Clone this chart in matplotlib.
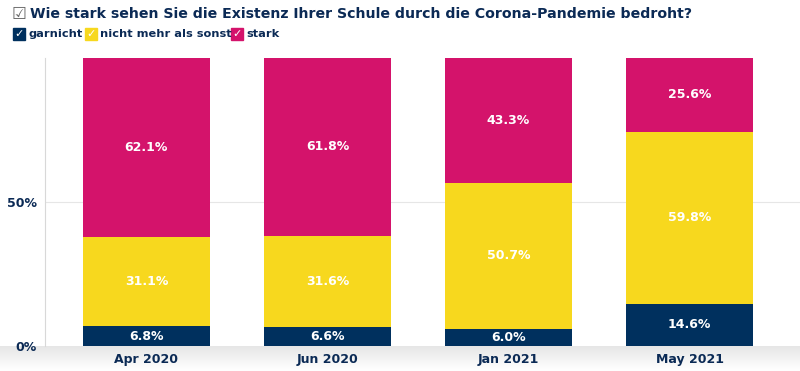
import numpy as np
import matplotlib.pyplot as plt
from matplotlib.patches import Rectangle

categories = ["Apr 2020", "Jun 2020", "Jan 2021", "May 2021"]
garnicht = [6.8, 6.6, 6.0, 14.6]
nicht_mehr = [31.1, 31.6, 50.7, 59.8]
stark = [62.1, 61.8, 43.3, 25.6]
series_names = ["garnicht", "nicht mehr als sonst", "stark"]

navy = "#00305e"
yellow = "#f7d81e"
magenta = "#d4136b"
text_col = "#0b2a55"

fig = plt.figure(figsize=(8, 3.71), dpi=100)

# grey shaded band under the plot
band = fig.add_axes([0, 0, 1, 25 / 371])
grad = np.linspace(0.90, 1.0, 50).reshape(-1, 1)
band.imshow(grad, aspect="auto", cmap="gray", vmin=0, vmax=1,
            extent=[0, 1, 0, 1], origin="upper")
band.set_axis_off()

ax = fig.add_axes([45 / 800, 25 / 371, 755 / 800, 288 / 371])
ax.patch.set_alpha(0)
x = np.arange(len(categories))
w = 0.70
b1 = ax.bar(x, garnicht, w, color=navy, zorder=3)
bottom2 = np.array(garnicht)
b2 = ax.bar(x, nicht_mehr, w, bottom=bottom2, color=yellow, zorder=3)
bottom3 = bottom2 + np.array(nicht_mehr)
b3 = ax.bar(x, stark, w, bottom=bottom3, color=magenta, zorder=3)

for bars, vals, bots in [(b1, garnicht, np.zeros(4)), (b2, nicht_mehr, bottom2), (b3, stark, bottom3)]:
    for rect, v, b in zip(bars, vals, bots):
        ax.text(rect.get_x() + rect.get_width() / 2, b + v / 2, "{:.1f}%".format(v),
                ha="center", va="center", color="white", fontsize=9,
                fontweight="bold", zorder=4)

ax.set_xlim(-0.56, 3.61)
ax.set_ylim(0, 100)
ax.set_yticks([0, 50])
ax.set_yticklabels(["0%", "50%"], fontsize=9, fontweight="bold", color=text_col)
ax.set_xticks(x)
ax.set_xticklabels(categories, fontsize=9, fontweight="bold", color=text_col)
ax.tick_params(length=0, axis="y", pad=6)
ax.tick_params(length=0, axis="x", pad=5)
ax.axhline(50, color="#e6e6e6", lw=0.8, zorder=1)
for s in ["top", "right", "bottom"]:
    ax.spines[s].set_visible(False)
ax.spines["left"].set_color("#d8d8d8")

# title with checkbox
fig.text(12 / 800, 1 - 14 / 371, "\u2611", fontsize=12, color="#666666",
         va="center", ha="left")
fig.text(30 / 800, 1 - 14 / 371,
         "Wie stark sehen Sie die Existenz Ihrer Schule durch die Corona-Pandemie bedroht?",
         fontsize=10.2, fontweight="bold", color=text_col, va="center", ha="left")

# legend with checked boxes
leg_x = [13, 85, 231]
for lx, name, col in zip(leg_x, series_names, [navy, yellow, magenta]):
    fig.patches.append(Rectangle((lx / 800, 1 - 40 / 371), 12 / 800, 12 / 371,
                                 transform=fig.transFigure, color=col))
    fig.text((lx + 6) / 800, 1 - 34 / 371, "\u2713", fontsize=8, color="white",
             ha="center", va="center", fontweight="bold")
    fig.text((lx + 15) / 800, 1 - 34 / 371, name, fontsize=8.2, fontweight="bold",
             color=text_col, ha="left", va="center")

fig.savefig("out.png", dpi=100)
